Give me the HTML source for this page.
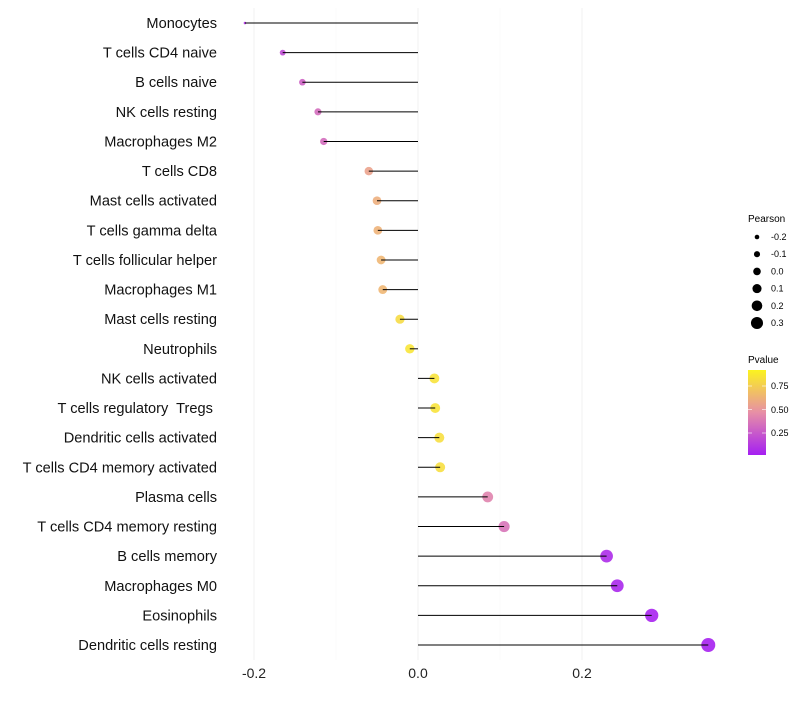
<!DOCTYPE html>
<html><head><meta charset="utf-8"><style>
body{margin:0;background:#fff;font-family:"Liberation Sans",sans-serif}
svg text{font-family:"Liberation Sans",sans-serif;white-space:pre}
</style></head><body>
<svg width="800" height="700">
<g id="grid"></g>
<g id="dots"></g>
<g id="marks"></g>
<g id="ylab"></g>
<g id="xlab"></g>
<g id="legP">
<text x="748" y="222" font-size="10">Pearson</text>
</g>
<g>
<text x="748" y="363" font-size="10">Pvalue</text>
<defs><linearGradient id="cg" x1="0" y1="1" x2="0" y2="0">
<stop offset="0" stop-color="#a51ff2"/><stop offset="0.5" stop-color="#e78fa6"/><stop offset="1" stop-color="#fbf31f"/></linearGradient></defs>
<rect x="748" y="370" width="18" height="85" fill="url(#cg)"/>
<line x1="748" x2="752" y1="386" y2="386" stroke="#fff" stroke-opacity=".6"/><line x1="762" x2="766" y1="386" y2="386" stroke="#fff" stroke-opacity=".6"/>
<line x1="748" x2="752" y1="409.5" y2="409.5" stroke="#fff" stroke-opacity=".6"/><line x1="762" x2="766" y1="409.5" y2="409.5" stroke="#fff" stroke-opacity=".6"/>
<line x1="748" x2="752" y1="433" y2="433" stroke="#fff" stroke-opacity=".6"/><line x1="762" x2="766" y1="433" y2="433" stroke="#fff" stroke-opacity=".6"/>
<text x="771" y="389" font-size="9">0.75</text>
<text x="771" y="413" font-size="9">0.50</text>
<text x="771" y="436" font-size="9">0.25</text>
</g>
</svg>
<script>
const cells=["Monocytes","T cells CD4 naive","B cells naive","NK cells resting","Macrophages M2","T cells CD8","Mast cells activated","T cells gamma delta","T cells follicular helper","Macrophages M1","Mast cells resting","Neutrophils","NK cells activated","T cells regulatory  Tregs ","Dendritic cells activated","T cells CD4 memory activated","Plasma cells","T cells CD4 memory resting","B cells memory","Macrophages M0","Eosinophils","Dendritic cells resting"];
const pearson=[-0.211,-0.165,-0.141,-0.122,-0.115,-0.060,-0.050,-0.049,-0.045,-0.043,-0.022,-0.010,0.020,0.021,0.026,0.027,0.085,0.105,0.230,0.243,0.285,0.354];
const pvalue=[0.08,0.2,0.3,0.35,0.35,0.6,0.66,0.68,0.7,0.7,0.88,0.93,0.92,0.92,0.9,0.9,0.45,0.38,0.06,0.04,0.02,0.01];
const xticks=[-0.2,0.0,0.2];
const xtickLabels=["-0.2","0.0","0.2"];
const legendVals=[-0.2,-0.1,0.0,0.1,0.2,0.3];
const NS="http://www.w3.org/2000/svg";
const X=v=>418+v*820;
const Y=i=>23+i*(622/21);
const R=v=>1.3+5.7*Math.sqrt(Math.max(0,(v+0.211)/0.565));
function lerp(a,b,t){return a.map((x,i)=>Math.round(x+(b[i]-x)*t));}
function col(p){const c0=[165,31,242],c1=[231,143,166],c2=[251,243,40];
 const c=p<0.5?lerp(c0,c1,p/0.5):lerp(c1,c2,(p-0.5)/0.5);return `rgb(${c})`;}
function mk(t,a,par){const e=document.createElementNS(NS,t);for(const k in a)e.setAttribute(k,a[k]);par.appendChild(e);return e;}
const grid=document.getElementById('grid'),dots=document.getElementById('dots'),marks=document.getElementById('marks'),yl=document.getElementById('ylab'),xl=document.getElementById('xlab');
[-0.1,0.1].forEach(v=>{const l=mk('line',{x1:X(v),x2:X(v),y1:8,y2:660,stroke:'#f8f8f8','stroke-width':0.6},grid);

});
xticks.forEach((v,i)=>{const l=mk('line',{x1:X(v),x2:X(v),y1:8,y2:660,stroke:'#f2f2f2','stroke-width':1},grid);


const t=mk('text',{x:X(v),y:678,'font-size':14,'text-anchor':'middle',fill:'#222'},xl);t.textContent=xtickLabels[i];

});
cells.forEach((c,i)=>{const y=Y(i);
const t=mk('text',{x:217,y:y+5,'font-size':14.6,'text-anchor':'end',fill:'#111'},yl);t.textContent=c;


const d=mk('circle',{cx:X(pearson[i]),cy:y,r:R(pearson[i]),fill:col(pvalue[i]),'fill-opacity':0.9},dots);


const l=mk('line',{x1:X(0),x2:X(pearson[i]),y1:y,y2:y,stroke:'#000','stroke-width':1},marks);

});
const lp=document.getElementById('legP');
legendVals.forEach((v,i)=>{const y=237+i*17.2;
const d=mk('circle',{cx:757,cy:y,r:2.3+i*0.75,fill:'#000'},lp);


const t=mk('text',{x:771,y:y+3,'font-size':9},lp);t.textContent=v.toFixed(1);

});
</script>
</body></html>
